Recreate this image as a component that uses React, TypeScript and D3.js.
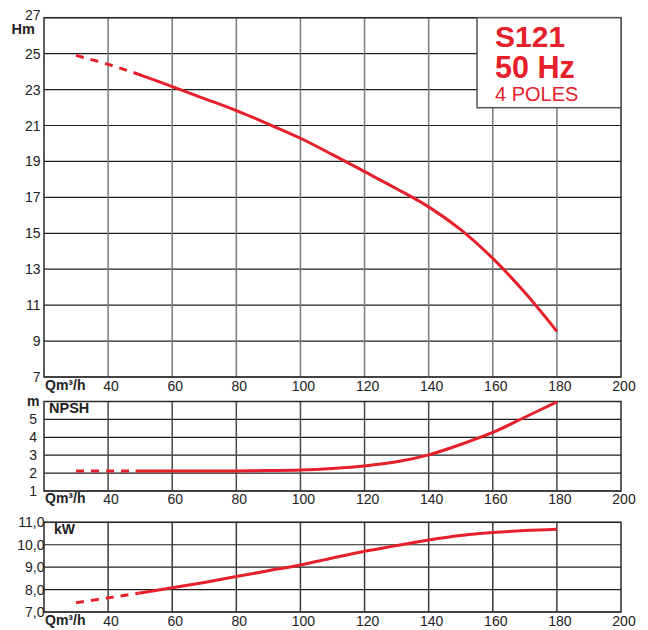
import React from "react";
import * as d3 from "d3";

const flow = [30, 40, 50, 60, 70, 80, 90, 100, 110, 120, 130, 140, 150, 160, 170, 180];
const head = [24.9, 24.4, 23.82, 23.16, 22.5, 21.83, 21.08, 20.29, 19.38, 18.43, 17.48, 16.47, 15.2, 13.6, 11.7, 9.54];
const npsh = [2.12, 2.12, 2.12, 2.12, 2.12, 2.12, 2.14, 2.17, 2.26, 2.4, 2.63, 3.02, 3.6, 4.27, 5.12, 5.98];
const power = [7.41, 7.63, 7.85, 8.08, 8.32, 8.58, 8.84, 9.1, 9.41, 9.71, 9.96, 10.21, 10.41, 10.54, 10.63, 10.69];

const xTicks = [40, 60, 80, 100, 120, 140, 160, 180, 200];
const headTicks = [7, 9, 11, 13, 15, 17, 19, 21, 23, 25, 27];
const npshTicks = [1, 2, 3, 4, 5, 6];
const npshLabels = ["1", "2", "3", "4", "5", ""];
const powerTicks = [7, 8, 9, 10, 11];
const powerLabels = ["7,0", "8,0", "9,0", "10,0", "11,0"];
const dashEnd = [48, 48.6, 49.5];

const titleLines = ["S121", "50 Hz", "4 POLES"];

const FONT = "'Liberation Sans', Arial, Helvetica, sans-serif";
const RED = "#e6202a";

const x = d3.scaleLinear().domain([20, 200]).range([44, 621]);

type PanelProps = {
  id: string;
  values: number[];
  domain: [number, number];
  range: [number, number];
  ticks: number[];
  labels: string[];
  labelX: number;
  vColor: string;
  dashTo: number;
  xLabelY: number;
  topShift?: number;
};

function Panel(p: PanelProps) {
  const y = d3.scaleLinear().domain(p.domain).range(p.range);
  const line = d3
    .line<number>()
    .x((_, i) => x(flow[i]))
    .y((d) => y(d))
    .curve(d3.curveCatmullRom.alpha(0.5));
  const path = line(p.values) || "";
  const top = p.range[1];
  const bottom = p.range[0];
  const cut = x(p.dashTo);
  return (
    <g>
      <defs>
        <clipPath id={p.id + "-dash"}>
          <rect x={0} y={0} width={cut} height={630} />
        </clipPath>
        <clipPath id={p.id + "-solid"}>
          <rect x={cut} y={0} width={648 - cut} height={630} />
        </clipPath>
      </defs>
      {p.ticks.map((t) => (
        <line key={"h" + t} x1={x(20)} x2={x(200)} y1={y(t)} y2={y(t)} stroke="#1e1e1e" strokeWidth={1.2} />
      ))}
      {xTicks.slice(0, -1).map((t) => (
        <line key={"v" + t} x1={x(t)} x2={x(t)} y1={top} y2={bottom} stroke={p.vColor} strokeWidth={1.5} />
      ))}
      <rect x={x(20)} y={top} width={x(200) - x(20)} height={bottom - top} fill="none" stroke="#2a2a2a" strokeWidth={1.5} />
      <path d={path} fill="none" stroke={RED} strokeWidth={3} strokeDasharray="8 7" clipPath={`url(#${p.id}-dash)`} />
      <path d={path} fill="none" stroke={RED} strokeWidth={3} clipPath={`url(#${p.id}-solid)`} />
      {p.ticks.map((t, i) => (
        <text
          key={"l" + t}
          x={p.labelX}
          y={y(t) - (i === p.ticks.length - 1 && p.topShift ? p.topShift : 0)}
          dy="0.36em"
          textAnchor="end"
          fontSize={14}
          fill="#222"
          fontFamily={FONT}
        >
          {p.labels[i]}
        </text>
      ))}
      <text x={x(20) + 1} y={p.xLabelY} fontSize={14} fontWeight="bold" fill="#222" fontFamily={FONT}>
        Qm³/h
      </text>
      {xTicks.map((t) => (
        <text key={"x" + t} x={x(t) + 3} y={p.xLabelY + 1} textAnchor="middle" fontSize={14} fill="#222" fontFamily={FONT}>
          {t}
        </text>
      ))}
    </g>
  );
}

export default function App() {
  return (
    <svg width={648} height={630} style={{ position: "absolute", left: 0, top: 0, background: "#fff" }}>
      <rect width={648} height={630} fill="#fff" />
      <Panel
        id="head"
        values={head}
        domain={[7, 27]}
        range={[377, 17.7]}
        ticks={headTicks}
        labels={headTicks.map(String)}
        labelX={40.5}
        vColor="#7a7a7a"
        dashTo={dashEnd[0]}
        xLabelY={389.5}
        topShift={3}
      />
      <Panel
        id="npsh"
        values={npsh}
        domain={[1, 6]}
        range={[491, 401.5]}
        ticks={npshTicks}
        labels={npshLabels}
        labelX={37}
        vColor="#4a4a4a"
        dashTo={dashEnd[1]}
        xLabelY={502.5}
      />
      <Panel
        id="kw"
        values={power}
        domain={[7, 11]}
        range={[612, 522.3]}
        ticks={powerTicks}
        labels={powerLabels}
        labelX={44.5}
        vColor="#3a3a3a"
        dashTo={dashEnd[2]}
        xLabelY={624.5}
      />
      <text x={11.5} y={33.5} fontSize={14.5} fontWeight="bold" fill="#222" fontFamily={FONT}>Hm</text>
      <text x={27} y={406} fontSize={14} fontWeight="bold" fill="#222" fontFamily={FONT}>m</text>
      <text x={49} y={413.3} fontSize={14.5} fontWeight="bold" fill="#222" fontFamily={FONT}>NPSH</text>
      <text x={54} y={533.7} fontSize={14} fontWeight="bold" fill="#222" fontFamily={FONT}>kW</text>
      <rect x={477} y={17.7} width={144} height={90} fill="#fff" stroke="#555" strokeWidth={1.5} />
      <text x={495} y={46.7} fontSize={30} fontWeight="bold" fill={RED} fontFamily={FONT}>{titleLines[0]}</text>
      <text x={495} y={78.3} fontSize={30.5} fontWeight="bold" fill={RED} fontFamily={FONT}>{titleLines[1]}</text>
      <text x={495} y={100.7} fontSize={20} fill={RED} fontFamily={FONT}>{titleLines[2]}</text>
    </svg>
  );
}
